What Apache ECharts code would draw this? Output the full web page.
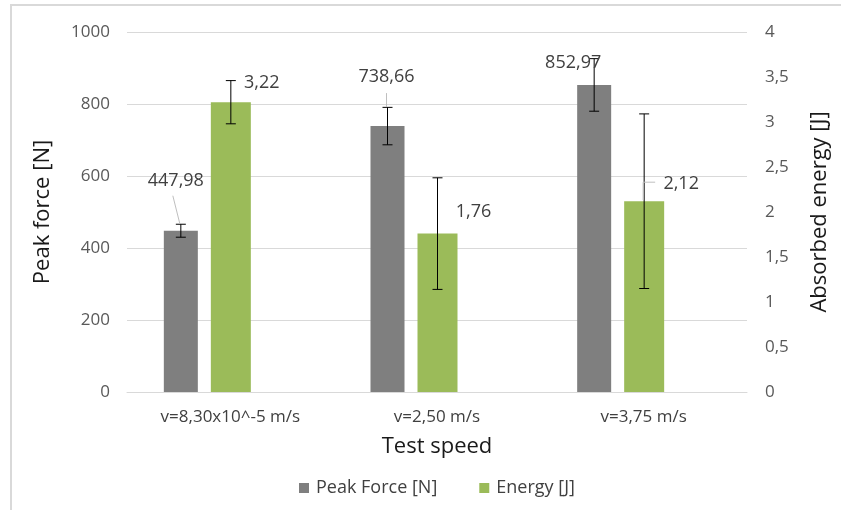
<!DOCTYPE html>
<html>
<head>
<meta charset="utf-8">
<script src="https://cdn.jsdelivr.net/npm/echarts@6/dist/echarts.min.js"></script>
<style>
html,body{margin:0;padding:0;background:#fff;}
#chart{width:841px;height:510px;}
</style>
</head>
<body>
<div id="chart"></div>
<script>
// ---- data ----
const categories = ['v=8,30x10^-5 m/s', 'v=2,50 m/s', 'v=3,75 m/s'];
const peakForce = [447.98, 738.66, 852.97];
const peakForceErr = [18, 52, 73];
const energy = [3.22, 1.76, 2.12];
const energyErr = [0.24, 0.62, 0.97];
const seriesNames = ['Peak Force [N]', 'Energy [J]'];
const forceAxisTicks = { min: 0, max: 1000, interval: 200 };
const energyAxisTicks = { min: 0, max: 4, interval: 0.5 };

// ---- layout / style (pixels relative to each bar's top point) ----
const FONT = 'Open Sans';
const barLayout = [
  { offset: -49.5, width: 34, color: '#7f7f7f' },
  { offset: 0.5, width: 40, color: '#9bbb59' }
];
const labelOffsets = [
  [[-5, -50], [-1, -49], [-21, -22]],
  [[31, -19], [36, -22], [37, -17]]
];
const leaderLines = [
  [[[-8, -35], [-1, -7]], [[-1, -33], [-1, -19]], null],
  [null, null, [[11, -19], [-1, -19], [-1, -1]]]
];

function fmt(v) { return v.toFixed(2).replace('.', ','); }

function makeRender(s, errs) {
  return function (params, api) {
    const i = api.value(0), v = api.value(1);
    const base = api.coord([i, 0]);
    const top = api.coord([i, v]);
    const L = barLayout[s];
    const cx = base[0] + L.offset;
    const e = errs[params.dataIndex];
    const hi = api.coord([i, v + e])[1];
    const lo = api.coord([i, v - e])[1];
    const tx = cx, ty = top[1];
    const children = [
      { type: 'rect', shape: { x: cx - L.width / 2, y: top[1], width: L.width, height: base[1] - top[1] },
        style: { fill: L.color } },
      { type: 'line', shape: { x1: cx, y1: hi, x2: cx, y2: lo }, style: { stroke: '#000', lineWidth: 1 } },
      { type: 'line', shape: { x1: cx - 5, y1: hi, x2: cx + 5, y2: hi }, style: { stroke: '#000', lineWidth: 1 } },
      { type: 'line', shape: { x1: cx - 5, y1: lo, x2: cx + 5, y2: lo }, style: { stroke: '#000', lineWidth: 1 } }
    ];
    const ll = leaderLines[s][params.dataIndex];
    if (ll) {
      children.push({ type: 'polyline', shape: { points: ll.map(p => [tx + p[0], ty + p[1]]) },
        style: { stroke: '#bfbfbf', lineWidth: 1, fill: null } });
    }
    const lo2 = labelOffsets[s][params.dataIndex];
    children.push({ type: 'text', x: tx + lo2[0], y: ty + lo2[1],
      style: { text: fmt(v), fill: '#404040', font: '18px "' + FONT + '"', align: 'center', verticalAlign: 'middle' } });
    return { type: 'group', children: children };
  };
}

const chart = echarts.init(document.getElementById('chart'));
chart.setOption({
  animation: false,
  backgroundColor: '#fff',
  textStyle: { fontFamily: FONT },
  graphic: [{ type: 'rect', shape: { x: 11, y: 5, width: 900, height: 600 },
    style: { fill: null, stroke: '#d9d9d9', lineWidth: 2 }, silent: true, z: -10 }],
  grid: { left: 127, right: 94, top: 32, bottom: 118, containLabel: false },
  legend: {
    left: 294, top: 474, itemWidth: 10, itemHeight: 10, itemGap: 42, icon: 'rect',
    textStyle: { fontSize: 18, color: '#404040', fontFamily: FONT, padding: [0, 0, 0, 2] },
    data: seriesNames
  },
  xAxis: {
    type: 'category', data: categories,
    axisLine: { lineStyle: { color: '#d9d9d9' } }, axisTick: { show: false },
    axisLabel: { fontSize: 17, color: '#404040', margin: 17, fontFamily: FONT },
    name: 'Test speed', nameLocation: 'middle', nameGap: 44,
    nameTextStyle: { fontSize: 22, color: '#1a1a1a', fontFamily: FONT }
  },
  yAxis: [
    { type: 'value', min: forceAxisTicks.min, max: forceAxisTicks.max, interval: forceAxisTicks.interval,
      axisLine: { show: false }, axisTick: { show: false },
      splitLine: { lineStyle: { color: '#d9d9d9' } },
      axisLabel: { fontSize: 17, color: '#595959', margin: 17, fontFamily: FONT, formatter: v => String(v) },
      name: 'Peak force [N]', nameLocation: 'middle', nameGap: 73, nameRotate: 90,
      nameTextStyle: { fontSize: 22, color: '#1a1a1a', fontFamily: FONT } },
    { type: 'value', min: energyAxisTicks.min, max: energyAxisTicks.max, interval: energyAxisTicks.interval,
      axisLine: { show: false }, axisTick: { show: false }, splitLine: { show: false },
      axisLabel: { fontSize: 17, color: '#595959', margin: 18, fontFamily: FONT,
        formatter: v => String(v).replace('.', ',') },
      name: 'Absorbed energy [J]', nameLocation: 'middle', nameGap: 62, nameRotate: 90,
      nameTextStyle: { fontSize: 22, color: '#1a1a1a', fontFamily: FONT } }
  ],
  series: [
    { name: seriesNames[0], type: 'custom', yAxisIndex: 0, itemStyle: { color: barLayout[0].color },
      renderItem: makeRender(0, peakForceErr), encode: { x: 0, y: 1 },
      data: peakForce.map((v, i) => [i, v]) },
    { name: seriesNames[1], type: 'custom', yAxisIndex: 1, itemStyle: { color: barLayout[1].color },
      renderItem: makeRender(1, energyErr), encode: { x: 0, y: 1 },
      data: energy.map((v, i) => [i, v]) }
  ]
});
</script>
</body>
</html>
